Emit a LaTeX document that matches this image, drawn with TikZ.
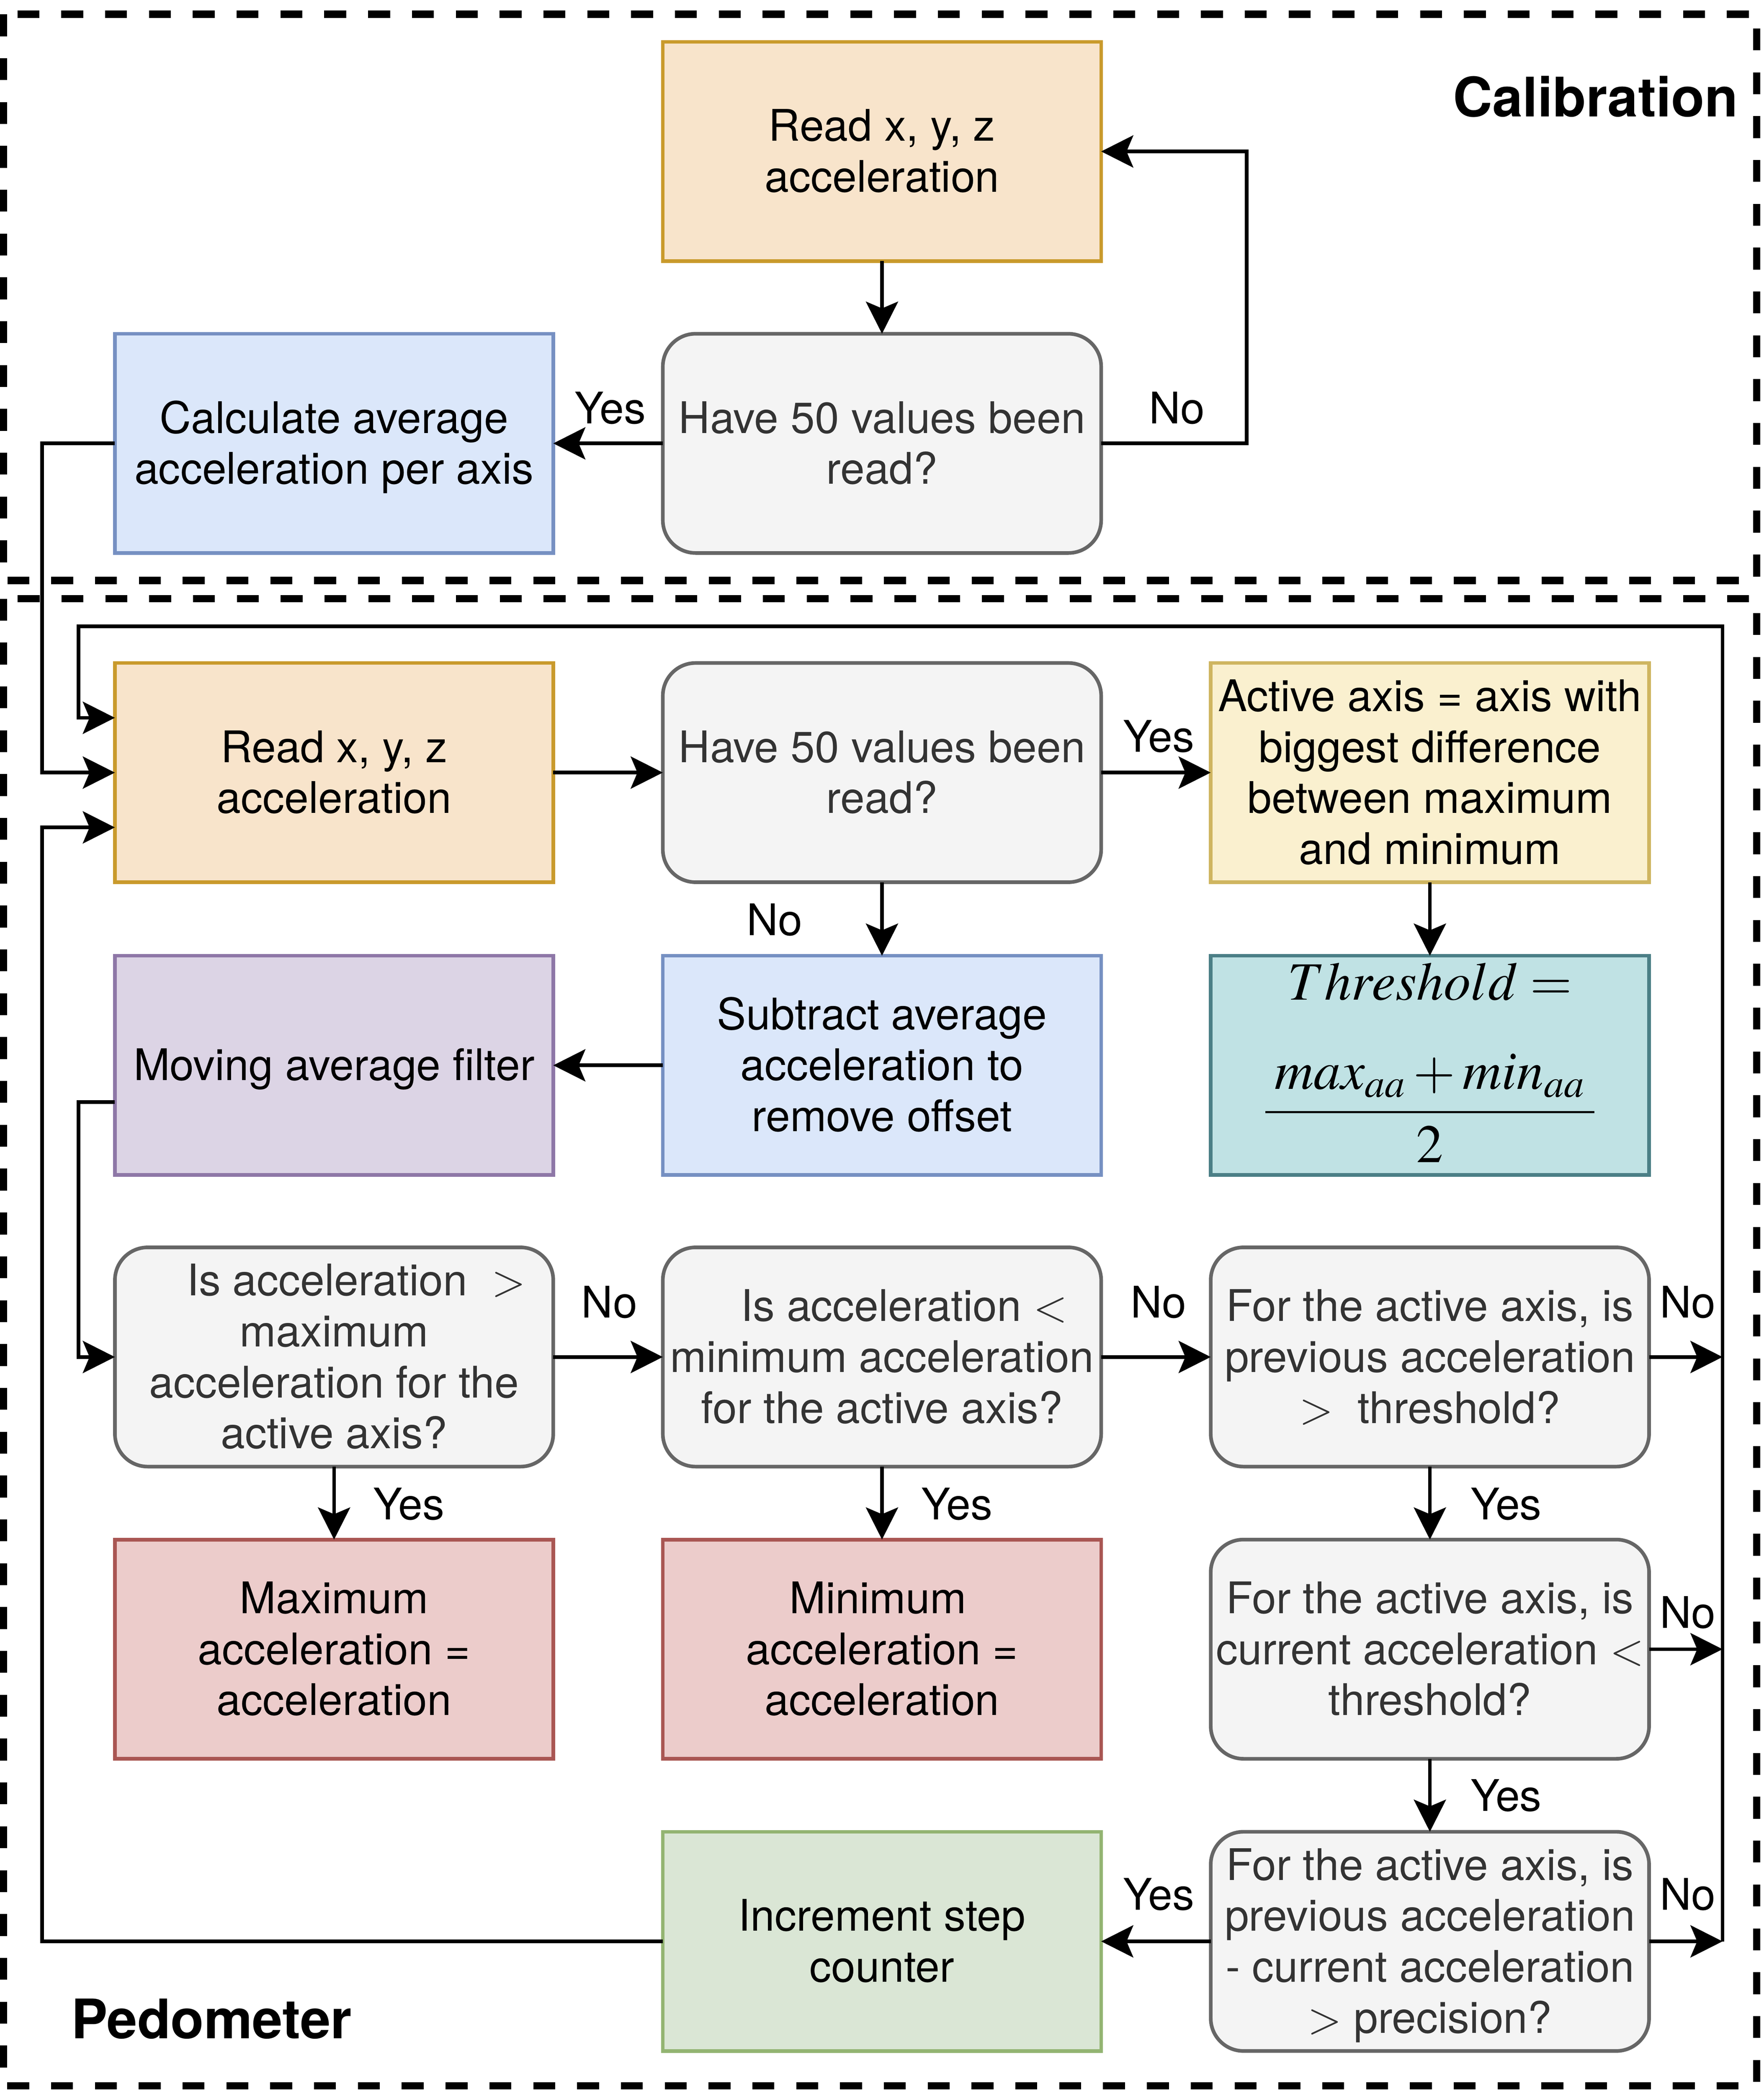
\documentclass[tikz,border=0pt]{standalone}
\usepackage{mathptmx}
\usepackage[no-math]{fontspec}
\setmainfont{TeX Gyre Heros}
\usetikzlibrary{arrows.meta,calc}

\definecolor{orangeFill}{HTML}{F8E4CB}
\definecolor{orangeLine}{HTML}{C99A2C}
\definecolor{grayFill}{HTML}{F4F4F4}
\definecolor{grayLine}{HTML}{666666}
\definecolor{grayText}{HTML}{333333}
\definecolor{blueFill}{HTML}{DBE7FA}
\definecolor{blueLine}{HTML}{7690C2}
\definecolor{purpleFill}{HTML}{DCD4E5}
\definecolor{purpleLine}{HTML}{8E77A7}
\definecolor{yellowFill}{HTML}{FAF0CF}
\definecolor{yellowLine}{HTML}{CFB560}
\definecolor{tealFill}{HTML}{C0E2E4}
\definecolor{tealLine}{HTML}{4B7F86}
\definecolor{redFill}{HTML}{ECCCCB}
\definecolor{redLine}{HTML}{A95653}
\definecolor{greenFill}{HTML}{DAE6D5}
\definecolor{greenLine}{HTML}{93B472}

% line strut, so every text block is centred like whole lines
\newcommand{\ls}{\rule[-4.4pt]{0pt}{21.7pt}}
\newcommand{\gt}{$>$}
\newcommand{\lt}{$<$}

\begin{document}
\begin{tikzpicture}[x=0.2mm, y=-0.2mm,
    txt/.style={font=\fontsize{18.55}{21.7}\selectfont},
    box/.style={txt, draw, line width=1.55pt, minimum width=65.6mm, minimum height=32.8mm,
      inner sep=0pt, outer sep=0pt, align=center, execute at end node=\ls},
    decision/.style={box, rounded corners=4.9mm, fill=grayFill, draw=grayLine, text=grayText},
    lbl/.style={txt, inner sep=0pt, anchor=base},
    title/.style={font=\fontsize{23.2}{28}\selectfont\bfseries, inner sep=0pt},
    mathtxt/.style={font=\fontsize{23}{28}\selectfont, inner sep=0pt, anchor=base},
    wire/.style={line width=1.55pt},
    arr/.style={wire, -{Stealth[length=4.8mm, width=4.8mm, inset=1mm]}},
    zone/.style={line width=3.1pt, dash pattern=on 3.28mm off 3.28mm}]

    \useasboundingbox (0, 0) rectangle (1320, 1566.6);

    \coordinate (busW) at (31.4, 0);
    \coordinate (busC) at (933, 0);
    \coordinate (busE) at (1289, 468.5);
    \coordinate (busI) at (58.7, 468.5);

    % calibration
    \draw[zone] (2.7, 10.7) rectangle (1314.5, 434.3);
    \node[title, anchor=base east] (calTitle) at (1300.8, 87.4) {Calibration};

    \node[box, fill=orangeFill, draw=orangeLine] (cRead) at (660, 113.3) {\ls Read x, y, z\\acceleration};
    \node[decision] (cCheck) at (660, 331.7) {\ls Have 50 values been\\read?};
    \node[box, fill=blueFill, draw=blueLine] (cAvg) at (250, 331.7) {\ls Calculate average\\acceleration per axis};

    \draw[arr] (cRead.south) -- (cCheck.north);
    \draw[arr] (cCheck.west) -- (cAvg.east);
      \node[lbl] (cYes) at (456.7, 317) {Yes};
    \draw[arr] (cCheck.east) -- (cCheck.east -| busC) |- (cRead.east);
      \node[lbl] (cNo) at (880.7, 317) {No};

    % pedometer
    \draw[zone] (2.7, 447.9) rectangle (1314.5, 1560.4);
    \node[title, anchor=base west] (pedTitle) at (53, 1525) {Pedometer};

    \node[box, fill=orangeFill, draw=orangeLine] (pRead) at (250, 578) {\ls Read x, y, z\\acceleration};
    \node[decision] (pCheck) at (660, 578) {\ls Have 50 values been\\read?};
    \node[box, fill=yellowFill, draw=yellowLine] (pActive) at (1070, 578)
      {\ls Active axis = axis with\\biggest difference\\between maximum\\and minimum};

    \node[box, fill=purpleFill, draw=purpleLine] (pFilter) at (250, 797) {\ls Moving average filter};
    \node[box, fill=blueFill, draw=blueLine] (pSub) at (660, 797) {\ls Subtract average\\acceleration to\\remove offset};
    \node[box, fill=tealFill, draw=tealLine] (pThresh) at (1070, 797) {};
      \node[mathtxt] (thrTop) at (1070, 748) {$Threshold =$};
      \node[mathtxt] (thrFrac) at (1070, 842)
        {$\displaystyle\frac{\hspace{4pt}max_{aa}+min_{aa}\hspace{4pt}}{2}$};

    \node[decision] (pMaxChk) at (250, 1015.2)
      {\ls\hspace*{6.6mm}Is acceleration\ \ \gt\\maximum\\acceleration for the\\active axis?};
    \node[decision] (pMinChk) at (660, 1015.2)
      {\ls\hspace*{6.6mm}Is acceleration \lt\\minimum acceleration\\for the active axis?};
    \node[decision] (pPrev) at (1070, 1015.2)
      {\ls For the active axis, is\\previous acceleration\\\gt\ \ threshold?};

    \node[box, fill=redFill, draw=redLine] (pMaxSet) at (250, 1233.8) {\ls Maximum\\acceleration =\\acceleration};
    \node[box, fill=redFill, draw=redLine] (pMinSet) at (660, 1233.8) {\ls Minimum\hspace*{1.2mm}\\acceleration =\\acceleration};
    \node[decision] (pCur) at (1070, 1233.8) {\ls For the active axis, is\\current acceleration \lt\\threshold?};

    \node[box, fill=greenFill, draw=greenLine] (pStep) at (660, 1452.4) {\ls Increment step\\counter};
    \node[decision] (pDiff) at (1070, 1452.4)
      {\ls For the active axis, is\\previous acceleration\\- current acceleration\\\gt\ precision?};

    \draw[arr] (cAvg.west) -- (cAvg.west -| busW) |- (pRead.west);
    \draw[arr] (pRead.east) -- (pCheck.west);
    \draw[arr] (pCheck.east) -- (pActive.west);
      \node[lbl] (yesActive) at (867, 562.4) {Yes};
    \draw[arr] (pCheck.south) -- (pSub.north);
      \node[lbl] (noSub) at (579.5, 699.8) {No};
    \draw[arr] (pActive.south) -- (pThresh.north);
    \draw[arr] (pSub.west) -- (pFilter.east);

    \coordinate (fOut) at ($(pFilter.north west)!0.667!(pFilter.south west)$);
    \draw[arr] (fOut) -- (fOut -| busI) |- (pMaxChk.west);

    \draw[arr] (pMaxChk.east) -- (pMinChk.west);
      \node[lbl] (noMin) at (456, 985.8) {No};
    \draw[arr] (pMinChk.east) -- (pPrev.west);
      \node[lbl] (noPrev) at (867, 985.8) {No};
    \draw[arr] (pMaxChk.south) -- (pMaxSet.north);
      \node[lbl] (yesMax) at (306, 1137) {Yes};
    \draw[arr] (pMinChk.south) -- (pMinSet.north);
      \node[lbl] (yesMin) at (716, 1137) {Yes};
    \draw[arr] (pPrev.south) -- (pCur.north);
      \node[lbl] (yesCur) at (1127, 1137) {Yes};
    \draw[arr] (pCur.south) -- (pDiff.north);
      \node[lbl] (yesDiff) at (1127, 1355) {Yes};
    \draw[arr] (pDiff.west) -- (pStep.east);
      \node[lbl] (yesStep) at (867, 1429) {Yes};

    % back to reading
    \draw[arr] (pPrev.east) -- (pPrev.east -| busE);
      \node[lbl] (noBack1) at (1263, 985.8) {No};
    \draw[arr] (pCur.east) -- (pCur.east -| busE);
      \node[lbl] (noBack2) at (1263, 1218) {No};
    \draw[arr] (pDiff.east) -- (pDiff.east -| busE);
      \node[lbl] (noBack3) at (1263, 1429) {No};
    \draw[arr] (pDiff.east -| busE) -- (busE) -- (busI) |- ($(pRead.north west)!0.25!(pRead.south west)$);
    \draw[arr] (pStep.west) -- (pStep.west -| busW) |- ($(pRead.north west)!0.75!(pRead.south west)$);

\end{tikzpicture}
\end{document}
